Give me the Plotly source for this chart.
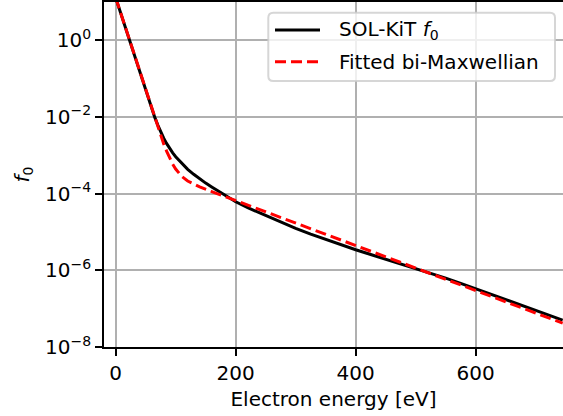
import plotly.graph_objects as go

# ---- data ----
energy_kit = [0, 10, 20, 30, 40, 50, 60, 65, 70, 75, 80, 85, 90, 95, 100, 105, 110, 115,
              120, 130, 140, 150, 160, 170, 185, 200, 220, 250, 275, 300, 325, 350, 375,
              400, 425, 450, 475, 500, 525, 550, 575, 600, 625, 650, 675, 700, 725, 745]
log_f_kit = [1.10, 0.62, 0.13, -0.36, -0.84, -1.32, -1.79, -2.01, -2.21, -2.41, -2.56,
             -2.70, -2.83, -2.94, -3.04, -3.13, -3.22, -3.30, -3.37, -3.50, -3.62, -3.73,
             -3.83, -3.93, -4.075, -4.215, -4.37, -4.58, -4.75, -4.91, -5.06, -5.20,
             -5.34, -5.465, -5.59, -5.71, -5.83, -5.95, -6.08, -6.205, -6.34, -6.48,
             -6.615, -6.75, -6.89, -7.035, -7.17, -7.30]
energy_fit = [0, 10, 20, 30, 40, 50, 55, 60, 65, 70, 75, 80, 85, 90, 95, 100, 105, 110,
              120, 130, 140, 160, 200, 250, 300, 350, 400, 450, 500, 550, 600, 650, 700,
              745]
log_f_fit = [1.10, 0.616, 0.132, -0.352, -0.836, -1.316, -1.555, -1.792, -2.027, -2.27,
             -2.49, -2.71, -2.90, -3.08, -3.235, -3.363, -3.469, -3.553, -3.674, -3.759,
             -3.827, -3.950, -4.185, -4.478, -4.771, -5.064, -5.357, -5.650, -5.943,
             -6.236, -6.529, -6.822, -7.115, -7.379]
f_kit = [10 ** v for v in log_f_kit]
f_fit = [10 ** v for v in log_f_fit]

y_tick_exps = [0, -2, -4, -6, -8]
x_tick_vals = [0, 200, 400, 600]
legend_labels = ["SOL-KiT <i>f</i><sub>0</sub>", "Fitted bi-Maxwellian"]

FONT = "DejaVu Sans"
W, H = 563, 416
ML, MR, MT, MB = 104, 0, 2, 69

fig = go.Figure()
fig.add_trace(go.Scatter(x=energy_kit, y=f_kit, mode="lines",
                         line=dict(color="black", width=3), showlegend=False))
fig.add_trace(go.Scatter(x=energy_fit, y=f_fit, mode="lines",
                         line=dict(color="red", width=3, dash="11px,5px"), showlegend=False))

fig.update_layout(
    width=W, height=H,
    margin=dict(l=ML, r=MR, t=MT, b=MB, pad=0),
    plot_bgcolor="white", paper_bgcolor="white",
    font=dict(family=FONT, size=20, color="black"),
    showlegend=False,
)
fig.update_xaxes(
    range=[-19.5, 745.5], tickvals=x_tick_vals, ticktext=[str(v) for v in x_tick_vals],
    ticks="outside", ticklen=7, tickwidth=1.6, tickcolor="black",
    showline=True, linecolor="black", linewidth=1.6, mirror=True,
    showgrid=True, gridcolor="#b0b0b0", gridwidth=1.6, zeroline=False,
    title=dict(text="Electron energy [eV]", font=dict(size=20), standoff=8),
    tickfont=dict(size=20),
)
fig.update_yaxes(
    type="log", range=[-8, 0.99],
    tickvals=[10 ** e for e in y_tick_exps],
    ticktext=["10<sup>%s</sup>" % (str(e).replace("-", "\u2212")) for e in y_tick_exps],
    ticks="outside", ticklen=7, tickwidth=1.6, tickcolor="black",
    showline=True, linecolor="black", linewidth=1.6, mirror=False,
    showgrid=True, gridcolor="#b0b0b0", gridwidth=1.6, zeroline=False,
    title=dict(text="<i>f</i><sub>0</sub>", font=dict(size=20), standoff=10),
    tickfont=dict(size=20),
)

# ---- legend (matplotlib style box) ----
PW = W - ML - MR
PH = H - MT - MB


def px(x):
    return (x - ML) / PW


def py(y):
    return (H - MB - y) / PH


x0, x1 = px(268.3), px(555)
yb, yt = py(81), py(12.7)
rx, ry = 5 / PW, 5 / PH
path = (f"M {x0+rx},{yb} L {x1-rx},{yb} Q {x1},{yb} {x1},{yb+ry} L {x1},{yt-ry} "
        f"Q {x1},{yt} {x1-rx},{yt} L {x0+rx},{yt} Q {x0},{yt} {x0},{yt-ry} "
        f"L {x0},{yb+ry} Q {x0},{yb} {x0+rx},{yb} Z")
fig.add_shape(type="path", path=path, xref="paper", yref="paper",
              fillcolor="rgba(255,255,255,0.8)",
              line=dict(color="rgba(204,204,204,0.8)", width=2), layer="above")
rows = [(30, "black", "solid"), (61.7, "red", "11px,5px")]
for (yy, col, dash), lab in zip(rows, legend_labels):
    fig.add_shape(type="line", xref="paper", yref="paper",
                  x0=px(275), x1=px(320), y0=py(yy), y1=py(yy),
                  line=dict(color=col, width=3, dash=dash), layer="above")
    fig.add_annotation(text=lab, xref="paper", yref="paper", x=px(336.7), y=py(yy),
                       xanchor="left", yanchor="middle", showarrow=False,
                       font=dict(size=20, family=FONT, color="black"))

fig.write_html("out.html")
